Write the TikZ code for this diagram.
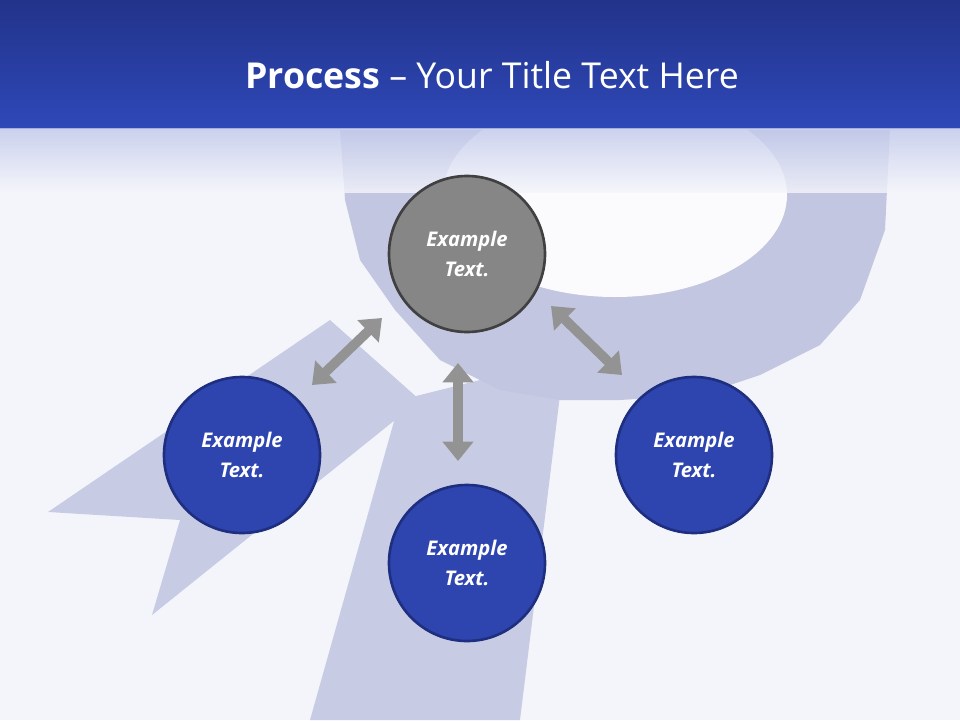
\documentclass[tikz,border=0pt]{standalone}
\usepackage{fontspec}
\setmainfont{Open Sans}
\usetikzlibrary{arrows.meta}
\definecolor{bg}{HTML}{F4F5FB}
\definecolor{hdtop}{HTML}{22338A}
\definecolor{hdbot}{HTML}{2E48B8}
\definecolor{rib}{HTML}{C8CBE4}
\definecolor{ribd}{HTML}{C3C6E0}
\definecolor{cblue}{HTML}{2E45B0}
\definecolor{cedge}{HTML}{1F2F80}
\tikzset{
 circ/.style={circle,minimum size=156*0.02cm,line width=1.5pt,align=center,text=white,font=\bfseries\itshape\fontsize{11.5}{17}\selectfont},
 bluec/.style={circ,fill=cblue,draw=cedge},
 grayc/.style={circ,fill=gray!95,draw=black!75},
 darr/.style={line width=5.5pt,draw=gray!85,{Triangle[length=11pt,width=17pt]}-{Triangle[length=11pt,width=17pt]}}
}
\begin{document}
\begin{tikzpicture}[x=0.02cm,y=-0.02cm]
\fill[bg] (0,0) rectangle (960,720);
\useasboundingbox (0,0) rectangle (960,720);
% ribbon tails
\fill[rib] (330,320) -- (48,512) -- (180,520) -- (152,615) -- (420,400) -- cycle;
\fill[rib] (400,400) -- (480,380) -- (560,395) -- (520,720) -- (310,720) -- cycle;
% rosette
\fill[ribd] (340,130) -- (890,130) -- (885,230) -- (860,300) -- (820,345) -- (760,375) -- (700,395) -- (620,400) -- (560,400) -- (500,390) -- (440,360) -- (395,310) -- (360,260) -- (345,200) -- cycle;
\fill[white!60!bg] (615,195) ellipse (172 and 102);
\shade[top color=hdtop,bottom color=hdbot] (0,0) rectangle (960,128);
\shade[top color=hdbot!30!white,bottom color=bg,opacity=.8] (0,128) rectangle (960,192);
\node[text=white,font=\fontsize{20.3}{24}\selectfont] (title) at (492,75) {\textbf{Process} – Your Title Text Here};
% arrows
\coordinate (a1) at (312,385); \coordinate (a2) at (382,318);
\coordinate (b1) at (458,363); \coordinate (b2) at (458,461);
\coordinate (c1) at (551,306); \coordinate (c2) at (622,375);
\draw[darr] (a1) -- (a2);
\draw[darr] (b1) -- (b2);
\draw[darr] (c1) -- (c2);
% circles
\node[grayc] (top) at (467,254) {Example\\Text.};
\node[bluec] (left) at (242,455) {Example\\Text.};
\node[bluec] (mid) at (467,563) {Example\\Text.};
\node[bluec] (right) at (694,455) {Example\\Text.};
\end{tikzpicture}
\end{document}
